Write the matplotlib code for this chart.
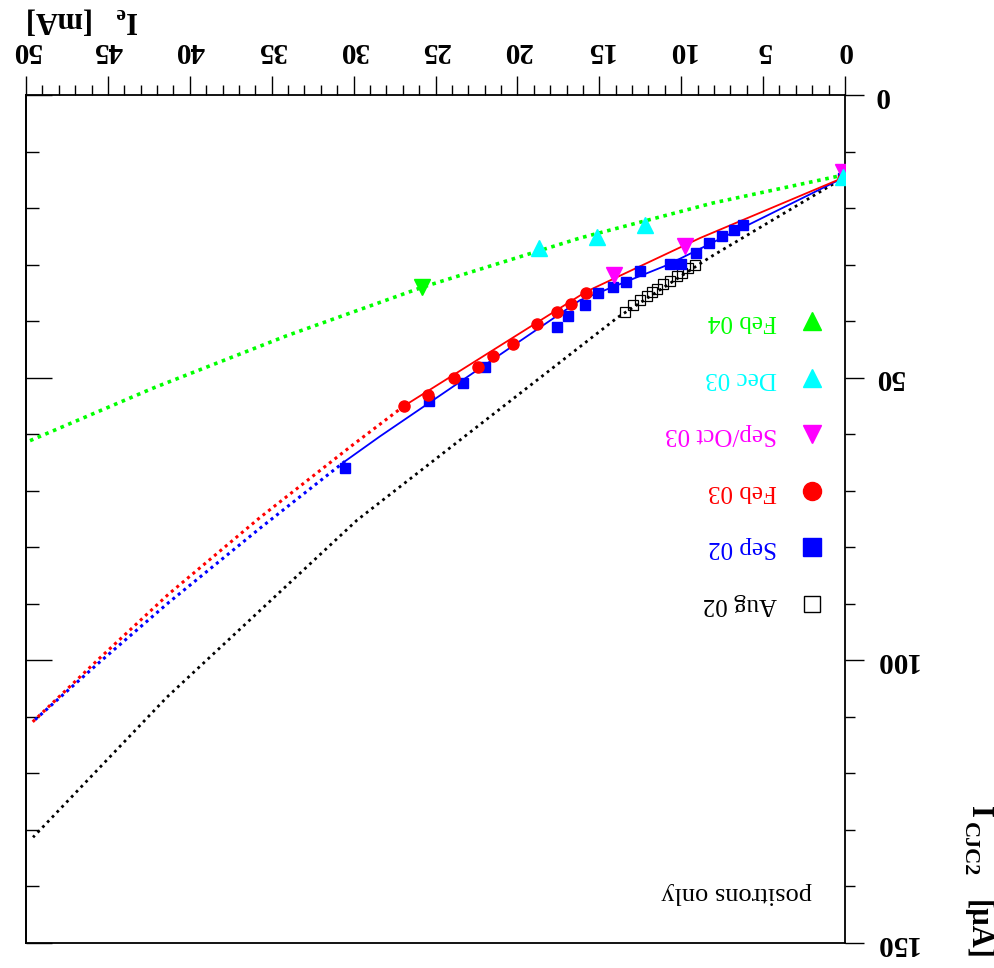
import numpy as np
import matplotlib.pyplot as plt
from matplotlib.ticker import MultipleLocator

plt.rcParams['font.family'] = ['Liberation Serif', 'DejaVu Serif']
plt.rcParams['font.weight'] = 'bold'
plt.rcParams['mathtext.fontset'] = 'custom'
plt.rcParams['mathtext.rm'] = 'Liberation Serif:bold'
plt.rcParams['mathtext.it'] = 'Liberation Serif:bold'
plt.rcParams['mathtext.bf'] = 'Liberation Serif:bold'

# Measured points: I_e [mA] vs I_CJC2 [uA]
aug02_x = [13.43, 12.94, 12.52, 12.09, 11.78, 11.48, 11.11, 10.68, 10.26, 9.95, 9.58, 9.16]
aug02_y = [38.4, 37.1, 36.2, 35.6, 34.9, 34.4, 33.4, 32.9, 32.0, 31.5, 30.6, 30.1]

sep02_x = [0.1, 6.23, 6.78, 7.51, 8.30, 9.10, 10.01, 10.68, 12.52, 13.37, 14.16, 15.08,
           15.87, 16.91, 17.58, 21.98, 23.32, 25.40, 30.53]
sep02_y = [14.6, 23.0, 23.9, 24.9, 26.2, 27.9, 29.9, 29.9, 31.1, 33.1, 34.0, 35.0,
           37.1, 39.1, 41.0, 48.1, 50.9, 54.1, 66.0]

feb03_x = [0.1, 15.81, 16.73, 17.58, 18.80, 20.27, 21.49, 22.41, 23.87, 25.46, 26.92]
feb03_y = [14.8, 35.0, 37.0, 38.4, 40.5, 44.05, 46.2, 48.1, 50.1, 53.1, 55.0]

sepoct03_x = [0.12, 9.77, 14.1]
sepoct03_y = [13.6, 26.7, 31.8]

dec03_x = [0.12, 12.21, 15.14, 18.68]
dec03_y = [14.5, 23.0, 25.1, 27.1]

feb04_x = [25.8]
feb04_y = [34.0]

# Fit curves
aug02_fit_x = [0.0, 8.24, 13.86, 29.79, 41.39, 49.57]
aug02_fit_y = [14.5, 28.7, 39.3, 75.2, 106.5, 131.3]

sep02_fit_x = [0.0, 10.87, 16.18, 28.4, 30.53, 35.7, 41.3, 45.5, 49.6]
sep02_fit_y = [14.5, 30.1, 36.3, 60.4, 64.8, 76.6, 89.8, 100.3, 110.9]

feb03_fit_x = [0.0, 8.85, 15.81, 26.92, 30.1, 35.7, 41.3, 45.5, 49.6]
feb03_fit_y = [14.5, 25.3, 34.8, 55.0, 62.0, 74.7, 88.3, 99.6, 110.9]

feb04_fit_x = [0.0, 8.06, 16.18, 25.8, 34.1, 42.2, 49.76]
feb04_fit_y = [14.1, 19.1, 25.3, 34.0, 42.6, 51.8, 61.15]

GREEN = '#00ff00'
CYAN = '#00ffff'
MAGENTA = '#ff00ff'
RED = '#ff0000'
BLUE = '#0000ff'

fig = plt.figure(figsize=(9.94, 9.68), dpi=100)
ax = fig.add_axes([26 / 994, 25 / 968, 819 / 994, 848 / 968])
ax.set_xlim(50, 0)
ax.set_ylim(150, 0)


def fit_line(xs, ys, x_end, color):
    # solid inside the measured range, dotted beyond it
    xs = np.array(xs)
    ys = np.array(ys)
    inside = xs <= x_end + 1e-9
    outside = xs >= x_end - 1e-9
    ax.plot(xs[inside], ys[inside], color=color, lw=1.3, zorder=2)
    ax.plot(xs[outside], ys[outside], color=color, lw=2.2, ls=(0, (1, 1.3)), zorder=2)


ax.plot(feb04_fit_x, feb04_fit_y, color=GREEN, lw=2.6, ls=(0, (1, 1.3)), zorder=2)
ax.plot(aug02_fit_x, aug02_fit_y, color='black', lw=2.0, ls=(0, (1, 1.5)), zorder=2)
fit_line(sep02_fit_x, sep02_fit_y, max(sep02_x), BLUE)
fit_line(feb03_fit_x, feb03_fit_y, max(feb03_x), RED)

ax.plot(aug02_x, aug02_y, 's', ms=7.5, mfc='none', mec='black', mew=0.9, zorder=3)
ax.plot(sep02_x, sep02_y, 's', ms=7.5, color=BLUE, zorder=3)
ax.plot(feb03_x, feb03_y, 'o', ms=8, color=RED, zorder=3)
ax.plot(sepoct03_x, sepoct03_y, 'v', ms=11, color=MAGENTA, zorder=4)
ax.plot(dec03_x, dec03_y, '^', ms=11, color=CYAN, zorder=4)
ax.plot(feb04_x, feb04_y, 'v', ms=11, color=GREEN, zorder=4)

# Legend, drawn by hand (the whole picture is upside down)
legend_labels = ['Feb 04', 'Dec 03', 'Sep/Oct 03', 'Feb 03', 'Sep 02', 'Aug 02']
legend_colors = [GREEN, CYAN, MAGENTA, RED, BLUE, 'black']
legend_markers = ['^', '^', 'v', 'o', 's', 's']
for i, (lab, col, mk) in enumerate(zip(legend_labels, legend_colors, legend_markers)):
    yy = 40 + 10 * i
    if lab == 'Aug 02':
        ax.plot([2.0], [yy], mk, ms=12, mfc='none', mec='black', mew=1.0, clip_on=False)
    else:
        ax.plot([2.0], [yy], mk, ms=13, color=col, clip_on=False)
    ax.text(4.15, yy, lab, color=col, rotation=180, ha='right', va='center',
            fontsize=18, fontweight='normal')

ax.text(2.0, 141.2, 'positrons only', rotation=180, ha='right', va='center',
        fontsize=19, fontweight='normal')

# Axes and ticks
for sp in ax.spines.values():
    sp.set_linewidth(1.3)

ax.xaxis.tick_top()
ax.xaxis.set_major_locator(MultipleLocator(5))
ax.xaxis.set_minor_locator(MultipleLocator(1))
ax.tick_params(axis='x', which='both', direction='out', top=True, bottom=False,
               labeltop=True, labelbottom=False, width=1)
ax.tick_params(axis='x', which='major', length=14, pad=8, labelsize=21, labelrotation=180)
ax.tick_params(axis='x', which='minor', length=7)

ax.yaxis.tick_right()
ax.yaxis.set_major_locator(MultipleLocator(50))
ax.yaxis.set_minor_locator(MultipleLocator(10))
ax.tick_params(axis='y', which='both', direction='out', right=True, left=False,
               labelright=True, labelleft=False, width=1)
ax.tick_params(axis='y', which='major', length=14, pad=7, labelsize=21, labelrotation=180)
ax.tick_params(axis='y', which='minor', length=7)
for lbl in ax.get_yticklabels():
    lbl.set_va('center')

sec = ax.secondary_yaxis('left')
sec.yaxis.set_major_locator(MultipleLocator(50))
sec.yaxis.set_minor_locator(MultipleLocator(10))
sec.tick_params(which='both', direction='in', labelleft=False, width=1)
sec.tick_params(which='major', length=19)
sec.tick_params(which='minor', length=9.5)
sec.spines['left'].set_linewidth(1.3)

# Axis titles
ax.text(0.0, 1.088, r'I$_{\rm e}$   [mA]', transform=ax.transAxes, rotation=180,
        ha='left', va='center', fontsize=22, fontweight='bold')
ax.text(1.163, 0.162, 'I', transform=ax.transAxes, rotation=270,
        ha='center', va='top', fontsize=22, fontweight='bold')
ax.text(1.151, 0.143, 'CJC2', transform=ax.transAxes, rotation=270,
        ha='center', va='top', fontsize=16, fontweight='bold')
ax.text(1.161, 0.051, '[µA]', transform=ax.transAxes, rotation=270,
        ha='center', va='top', fontsize=22, fontweight='bold')

fig.savefig('out.png', dpi=100)
